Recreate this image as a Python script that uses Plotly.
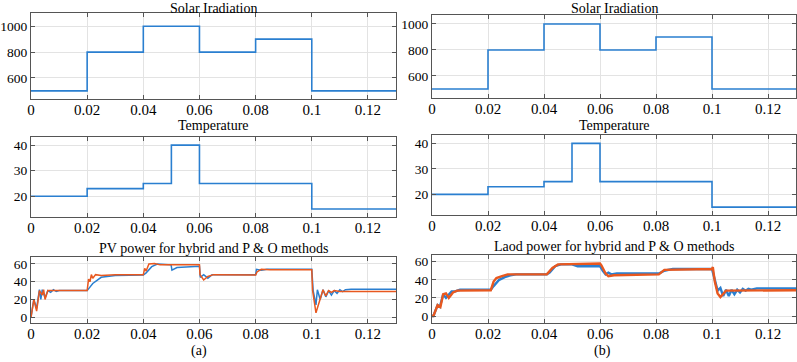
import plotly.graph_objects as go

# ---------------- data ----------------
step_t = [0, 0.02, 0.04, 0.06, 0.08, 0.10, 0.13]
irradiation = [500, 800, 1000, 800, 900, 500, 500]

temp_t = [0, 0.02, 0.04, 0.05, 0.06, 0.10, 0.13]
temperature = [20, 23, 25, 40, 25, 15, 15]

# PV power (a)
pv_hyb_t = [0, 0.001, 0.002, 0.003, 0.0035, 0.004, 0.005, 0.006, 0.007, 0.008, 0.009, 0.01, 0.02,
            0.022, 0.025, 0.03, 0.04, 0.041, 0.043, 0.045, 0.0499, 0.0502, 0.052, 0.06, 0.0603,
            0.0615, 0.063, 0.0645, 0.066, 0.08, 0.0803, 0.082, 0.084, 0.1, 0.1005, 0.1015, 0.102,
            0.103, 0.104, 0.105, 0.106, 0.107, 0.108, 0.109, 0.11, 0.111, 0.112, 0.114, 0.13]
pv_hyb = [0, 20, 10, 31, 20, 31, 22, 30, 28, 31, 29, 30, 30,
          38, 45, 47, 47.5, 50, 57, 60, 59, 53, 56, 57.5, 45,
          48, 44, 48, 48, 48, 54, 53, 54, 54, 30, 14, 31,
          20, 31, 23, 30, 25, 30, 27, 31, 29, 31, 31.5, 31.5]

pv_po_t = [0, 0.001, 0.002, 0.003, 0.004, 0.0045, 0.005, 0.006, 0.008, 0.02, 0.0205, 0.021, 0.0215,
           0.022, 0.023, 0.025, 0.03, 0.04, 0.0405, 0.041, 0.042, 0.044, 0.046, 0.06, 0.0602,
           0.0615, 0.063, 0.065, 0.08, 0.0805, 0.082, 0.085, 0.1, 0.1003, 0.1015, 0.103, 0.104,
           0.105, 0.106, 0.107, 0.108, 0.11, 0.13]
pv_po = [0, 20, 7, 30, 25, 31, 20, 30, 30, 30, 43, 40, 48,
         44, 48, 47, 48, 48, 55, 52, 60, 60.5, 59, 59, 48,
         42, 46, 48, 47.5, 51, 54, 53.5, 53.5, 30, 5, 20, 31,
         24, 30, 28, 30, 29, 29]

# Load power (b)
ld_hyb_t = [0, 0.0005, 0.002, 0.0028, 0.004, 0.005, 0.007, 0.008, 0.01, 0.021, 0.022, 0.024, 0.026,
            0.028, 0.03, 0.041, 0.042, 0.044, 0.046, 0.05, 0.052, 0.06, 0.061, 0.062, 0.063, 0.064,
            0.066, 0.081, 0.083, 0.086, 0.1, 0.101, 0.102, 0.103, 0.104, 0.105, 0.106, 0.107,
            0.108, 0.109, 0.11, 0.111, 0.112, 0.113, 0.114, 0.116, 0.13]
ld_hyb = [0, 0, 12, 10, 24, 20, 27, 27, 29, 29, 33, 40, 43,
          45, 46, 46, 48, 55, 57, 57, 55, 55, 50, 46, 48, 46,
          47, 47, 50, 52, 52, 40, 28, 31, 22, 29, 22, 29,
          24, 29, 26, 30, 28, 30, 29, 30.5, 30.5]

ld_po_t = [0, 0.0005, 0.002, 0.003, 0.004, 0.005, 0.006, 0.0075, 0.009, 0.021, 0.022, 0.023, 0.025,
           0.027, 0.041, 0.043, 0.045, 0.06, 0.0605, 0.062, 0.063, 0.065, 0.081, 0.083, 0.1,
           0.1003, 0.101, 0.102, 0.103, 0.104, 0.105, 0.13]
ld_po = [0, 0, 12, 10, 24, 25, 20, 26, 28, 28.5, 38, 42, 44,
         46, 46, 53, 57, 58, 56, 47, 44, 45, 46, 51, 52,
         54, 38, 25, 21, 25, 28, 28.5]

x_ticks = [0, 0.02, 0.04, 0.06, 0.08, 0.1, 0.12]
x_tick_text = ["0", "0.02", "0.04", "0.06", "0.08", "0.1", "0.12"]

BLUE = "#2a7fd0"
RED = "#e8581f"
FONT = "Liberation Serif"
W, H = 797, 362

fig = go.Figure()

def px_x(a, b):
    return [a / W, b / W]

def px_y(top, bottom):
    return [1 - bottom / H, 1 - top / H]

panels = [
    # (xdom px, ydom px, yrange, yticks)
    ((31, 396), (13.3, 99), [437, 1100], [600, 800, 1000]),
    ((31, 396), (136.7, 216.7), [12, 43.3], [20, 30, 40]),
    ((31, 396), (256.7, 323.3), [-6.8, 68.2], [0, 20, 40, 60]),
    ((432, 796), (15, 97.7), [433, 1069], [600, 800, 1000]),
    ((432, 796), (135, 215), [11.9, 43.3], [20, 30, 40]),
    ((432, 796), (255, 322.7), [-7.4, 67.4], [0, 20, 40, 60]),
]

def add(i, x, y, color, width, name):
    fig.add_trace(go.Scatter(x=x, y=y, mode="lines", line=dict(color=color, width=width, shape="linear"),
                             xaxis="x" + ("" if i == 1 else str(i)), yaxis="y" + ("" if i == 1 else str(i)),
                             name=name, showlegend=False))

def add_step(i, x, y):
    fig.add_trace(go.Scatter(x=x, y=y, mode="lines", line=dict(color=BLUE, width=1.6, shape="hv"),
                             xaxis="x" + ("" if i == 1 else str(i)), yaxis="y" + ("" if i == 1 else str(i)),
                             showlegend=False))

add_step(1, step_t, irradiation)
add_step(2, temp_t, temperature)
add(3, pv_hyb_t, pv_hyb, BLUE, 1.5, "Hybrid")
add(3, pv_po_t, pv_po, RED, 1.5, "P&O")
add_step(4, step_t, irradiation)
add_step(5, temp_t, temperature)
add(6, ld_hyb_t, ld_hyb, BLUE, 2.4, "Hybrid")
add(6, ld_po_t, ld_po, RED, 2.4, "P&O")

layout = dict(width=W, height=H, margin=dict(l=0, r=0, t=0, b=0),
              paper_bgcolor="white", plot_bgcolor="white",
              font=dict(family=FONT, size=15, color="black"))

for i, (xd, yd, yr, yt) in enumerate(panels, start=1):
    k = "" if i == 1 else str(i)
    layout["xaxis" + k] = dict(domain=px_x(*xd), range=[0, 0.13], anchor="y" + k,
                               tickvals=x_ticks, ticktext=x_tick_text,
                               showgrid=True, gridcolor="#e3e3e3", gridwidth=1,
                               showline=True, linecolor="#555555", linewidth=1.2, mirror="ticks",
                               ticks="inside", ticklen=4, tickcolor="#555555",
                               zeroline=False, automargin=False, ticklabelstandoff=-3,
                               tickfont=dict(family=FONT, size=15))
    layout["yaxis" + k] = dict(domain=px_y(*yd), range=yr, anchor="x" + k,
                               tickvals=yt, showgrid=True, gridcolor="#e3e3e3", gridwidth=1,
                               showline=True, linecolor="#555555", linewidth=1.2, mirror="ticks",
                               ticks="inside", ticklen=4, tickcolor="#555555",
                               zeroline=False, automargin=False, ticklabelstandoff=0,
                               tickfont=dict(family=FONT, size=13.5))

fig.update_layout(**layout)

titles = [
    ("Solar Iradiation", 213, 9),
    ("Temperature", 213, 125.5),
    ("PV power for hybrid and P & O methods", 213, 248),
    ("(a)", 199, 351),
    ("Solar Iradiation", 614, 9),
    ("Temperature", 614, 125.5),
    ("Laod power for hybrid and P & O methods", 614, 246),
    ("(b)", 602, 351),
]
for text, x, y in titles:
    fig.add_annotation(text=text, x=x / W, y=1 - y / H, xref="paper", yref="paper",
                       xanchor="center", yanchor="middle", showarrow=False,
                       font=dict(family=FONT, size=14, color="black"))

fig.write_html("out.html", config={"displayModeBar": False},
               post_script="document.body.style.margin='0';document.body.style.overflow='hidden';")
